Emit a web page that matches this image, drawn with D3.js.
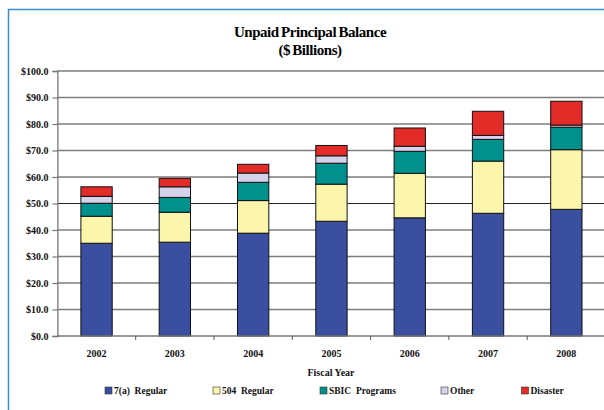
<!DOCTYPE html>
<html>
    <head>
        <meta charset="utf-8" />
        <script src="https://d3js.org/d3.v7.min.js"></script>
        <style>
            body { margin: 0; background: #fff; }
            svg { display: block; font-family: 'Liberation Serif', 'Times New Roman', serif; }
        </style>
    </head>
    <body>
        <svg id="chart" width="604" height="410"></svg>
        <script>
            const years = ['2002', '2003', '2004', '2005', '2006', '2007', '2008']
            const regular7a = [35.0, 35.4, 38.8, 43.3, 44.6, 46.3, 47.8]
            const regular504 = [10.2, 11.3, 12.3, 14.0, 16.8, 19.7, 22.5]
            const sbic = [4.9, 5.6, 6.9, 7.9, 8.3, 8.2, 8.5]
            const other = [2.6, 4.0, 3.5, 2.8, 1.9, 1.5, 0.8]
            const disaster = [3.6, 3.2, 3.3, 3.9, 6.9, 9.1, 9.0]
            const seriesNames = ['7(a)  Regular', '504  Regular', 'SBIC  Programs', 'Other', 'Disaster']
            const colors = ['#3a4fa0', '#fbf6ac', '#00918d', '#d5d3ea', '#e32b27']
            const yTicks = [0, 10, 20, 30, 40, 50, 60, 70, 80, 90, 100]

            const keys = ['a', 'b', 'c', 'd', 'e']
            const table = years.map((y, i) => ({
                year: y,
                a: regular7a[i],
                b: regular504[i],
                c: sbic[i],
                d: other[i],
                e: disaster[i]
            }))

            const svg = d3.select('#chart')

            // outer frame
            svg.append('rect')
                .attr('x', 8.5).attr('y', 9.5)
                .attr('width', 620).attr('height', 420)
                .attr('fill', 'none')
                .attr('stroke', '#3b8dcc')
                .attr('stroke-width', 1.5)

            const x = d3.scaleBand()
                .domain(years)
                .range([57.4, 605.5])
                .paddingInner(0.6)
                .paddingOuter(0.3)
            const y = d3.scaleLinear().domain([0, 100]).range([336, 71])

            // gridlines
            svg.append('g')
                .selectAll('line')
                .data(yTicks.filter(d => d > 0))
                .enter()
                .append('line')
                .attr('x1', 57.4)
                .attr('x2', 604)
                .attr('y1', d => y(d))
                .attr('y2', d => y(d))
                .attr('stroke', d => d === 50 ? '#222' : '#7d7d7d')
                .attr('stroke-width', d => d === 50 ? 1.1 : 1.3)

            // bars
            const stacked = d3.stack().keys(keys)(table)
            svg.append('g')
                .selectAll('g')
                .data(stacked)
                .enter()
                .append('g')
                .attr('fill', (d, i) => colors[i])
                .selectAll('rect')
                .data(d => d)
                .enter()
                .append('rect')
                .attr('x', d => x(d.data.year))
                .attr('width', x.bandwidth())
                .attr('y', d => y(d[1]))
                .attr('height', d => y(d[0]) - y(d[1]))
                .attr('stroke', '#111')
                .attr('stroke-width', 1)

            // y axis
            const yAxis = svg.append('g')
                .attr('transform', 'translate(57.4,0)')
                .call(d3.axisLeft(y).tickValues(yTicks).tickSize(5).tickPadding(4)
                    .tickFormat(d => '$' + d.toFixed(1)))
            yAxis.select('.domain').attr('stroke', '#777').attr('stroke-width', 1.3)
            yAxis.selectAll('.tick line').attr('stroke', '#777').attr('stroke-width', 1.2)
            yAxis.selectAll('text')
                .attr('font-family', 'Liberation Serif, serif')
                .attr('font-weight', 'bold')
                .attr('font-size', 10)
                .attr('fill', '#111')

            // x axis baseline and ticks between categories
            svg.append('line')
                .attr('x1', 57.4).attr('x2', 604)
                .attr('y1', y(0)).attr('y2', y(0))
                .attr('stroke', '#777').attr('stroke-width', 1.3)
            const step = x.step()
            svg.append('g')
                .selectAll('line')
                .data(years)
                .enter()
                .append('line')
                .attr('x1', d => x(d) + x.bandwidth() + (step - x.bandwidth()) / 2)
                .attr('x2', d => x(d) + x.bandwidth() + (step - x.bandwidth()) / 2)
                .attr('y1', y(0))
                .attr('y2', y(0) + 4)
                .attr('stroke', '#555')
                .attr('stroke-width', 1)

            svg.append('g')
                .selectAll('text')
                .data(years)
                .enter()
                .append('text')
                .attr('x', d => x(d) + x.bandwidth() / 2)
                .attr('y', 357)
                .attr('text-anchor', 'middle')
                .attr('font-weight', 'bold')
                .attr('font-size', 10)
                .attr('fill', '#111')
                .text(d => d)

            // titles
            svg.append('text')
                .attr('x', 310).attr('y', 37)
                .attr('text-anchor', 'middle')
                .attr('font-weight', 'bold')
                .attr('font-size', 15)
                .attr('letter-spacing', -0.45)
                .attr('word-spacing', -1)
                .text('Unpaid Principal Balance')
            svg.append('text')
                .attr('x', 310).attr('y', 55)
                .attr('text-anchor', 'middle')
                .attr('font-weight', 'bold')
                .attr('font-size', 15)
                .attr('letter-spacing', -0.45)
                .attr('word-spacing', -1)
                .text('($ Billions)')

            svg.append('text')
                .attr('x', 331).attr('y', 376)
                .attr('text-anchor', 'middle')
                .attr('font-weight', 'bold')
                .attr('font-size', 10)
                .attr('fill', '#111')
                .text('Fiscal Year')

            // legend
            const legendX = [105, 213, 320, 441, 521.5]
            const legend = svg.append('g')
                .selectAll('g')
                .data(seriesNames)
                .enter()
                .append('g')
                .attr('transform', (d, i) => `translate(${legendX[i]},387)`)
            legend.append('rect')
                .attr('width', 7).attr('height', 7)
                .attr('fill', (d, i) => colors[i])
                .attr('stroke', '#333')
                .attr('stroke-width', 0.6)
            legend.append('text')
                .attr('x', 9).attr('y', 7)
                .attr('font-weight', 'bold')
                .attr('font-size', 9.5)
                .attr('fill', '#111')
                .style('white-space', 'pre')
                .text(d => d)
        </script>
    </body>
</html>
